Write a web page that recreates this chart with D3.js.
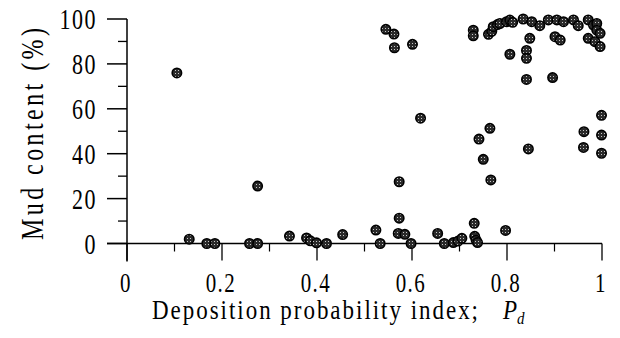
<!DOCTYPE html>
<html>
<head>
<meta charset="utf-8">
<script src="https://cdnjs.cloudflare.com/ajax/libs/d3/7.8.5/d3.min.js"></script>
<style>
  body { margin: 0; background: #fff; }
  text { font-family: "Liberation Serif", "Times New Roman", serif; fill: #000; }
</style>
</head>
<body>
<div id="chart"></div>
<script>
// deposition probability index (x) and mud content % (y)
var pd = [0.105, 0.131, 0.168, 0.185, 0.258, 0.275, 0.275, 0.342, 0.378, 0.386,
          0.399, 0.42, 0.454, 0.524, 0.533, 0.545, 0.562, 0.563, 0.573, 0.573,
          0.571, 0.585, 0.598, 0.601, 0.618, 0.654, 0.668, 0.687, 0.697, 0.705,
          0.729, 0.729, 0.731, 0.732, 0.735, 0.738, 0.741, 0.75, 0.761, 0.766,
          0.764, 0.768, 0.771, 0.78, 0.785, 0.799, 0.797, 0.806, 0.812, 0.806,
          0.834, 0.841, 0.841, 0.841, 0.845, 0.848, 0.852, 0.869, 0.887, 0.896,
          0.901, 0.912, 0.905, 0.919, 0.94, 0.95, 0.962, 0.961, 0.971, 0.971,
          0.982, 0.985, 0.989, 0.989, 0.996, 0.996, 0.999, 0.999, 0.999];
var mud = [76, 1.9, 0, 0, 0, 0, 25.6, 3.3, 2.5, 1.2,
           0.3, 0, 4, 6, 0, 95.4, 93.3, 87.2, 27.5, 11.3,
           4.5, 4.1, 0, 88.7, 55.8, 4.5, 0, 0.4, 1.1, 2.3,
           95, 92.5, 9, 3.2, 1.5, 0.4, 46.5, 37.5, 93.2, 28.3,
           51.3, 94.5, 96.6, 97.5, 98, 98.8, 5.8, 99.5, 98.5, 84.3,
           100, 86, 82.5, 73.1, 42.1, 91.4, 98.8, 97, 99.6, 73.9,
           92.1, 90.6, 99.6, 98.8, 99.6, 97, 49.8, 42.8, 99.6, 91.4,
           97.3, 89.9, 98, 95, 93.6, 87.7, 57.1, 48.3, 40.2];

var xMajor = [0, 0.2, 0.4, 0.6, 0.8, 1];
var xMinor = [0.1, 0.3, 0.5, 0.7, 0.9];
var xLabels = ["0", "0.2", "0.4", "0.6", "0.8", "1"];
var yMajor = [0, 20, 40, 60, 80, 100];
var yMinor = [10, 30, 50, 70, 90];

var width = 620, height = 338;

var x = d3.scaleLinear().domain([0, 1]).range([127, 602]);
var y = d3.scaleLinear().domain([0, 100]).range([243.5, 19]);

var svg = d3.select("#chart").append("svg")
    .attr("width", width)
    .attr("height", height);

// speckled fill for the dots
var pat = svg.append("defs").append("pattern")
    .attr("id", "speck")
    .attr("patternUnits", "userSpaceOnUse")
    .attr("width", 3).attr("height", 3);
pat.append("rect").attr("width", 3).attr("height", 3).attr("fill", "#2a2a2a");
pat.append("rect").attr("x", 1).attr("y", 1).attr("width", 1).attr("height", 1).attr("fill", "#c8c8c8");

/*
 * axes
 */
svg.append("line")
    .attr("x1", x(0)).attr("x2", x(0))
    .attr("y1", y(100)).attr("y2", y(0) + 18)
    .attr("stroke", "#000").attr("stroke-width", 1.5);

svg.append("line")
    .attr("x1", x(0) - 20).attr("x2", x(1))
    .attr("y1", y(0)).attr("y2", y(0))
    .attr("stroke", "#000").attr("stroke-width", 1.5);

svg.selectAll("line.ymaj")
    .data(yMajor)
    .enter().append("line")
    .attr("class", "ymaj")
    .attr("x1", x(0) - 20).attr("x2", x(0))
    .attr("y1", function(d) { return y(d); })
    .attr("y2", function(d) { return y(d); })
    .attr("stroke", "#000").attr("stroke-width", 1.5);

svg.selectAll("line.ymin")
    .data(yMinor)
    .enter().append("line")
    .attr("class", "ymin")
    .attr("x1", x(0) - 9).attr("x2", x(0))
    .attr("y1", function(d) { return y(d); })
    .attr("y2", function(d) { return y(d); })
    .attr("stroke", "#000").attr("stroke-width", 1.3);

svg.selectAll("line.xmaj")
    .data(xMajor)
    .enter().append("line")
    .attr("class", "xmaj")
    .attr("x1", function(d) { return x(d); })
    .attr("x2", function(d) { return x(d); })
    .attr("y1", y(0)).attr("y2", y(0) + 17)
    .attr("stroke", "#000").attr("stroke-width", 1.3);

svg.selectAll("line.xmin")
    .data(xMinor)
    .enter().append("line")
    .attr("class", "xmin")
    .attr("x1", function(d) { return x(d); })
    .attr("x2", function(d) { return x(d); })
    .attr("y1", y(0)).attr("y2", y(0) + 8)
    .attr("stroke", "#000").attr("stroke-width", 1.2);

// tick labels, tall narrow type like the original
svg.selectAll("g.ylab")
    .data(yMajor)
    .enter().append("g")
    .attr("class", "ylab")
    .attr("transform", function(d) { return "translate(97," + (y(d) + 10) + ") scale(1,1.35)"; })
    .append("text")
    .attr("text-anchor", "end")
    .style("font-size", "22px")
    .style("letter-spacing", "1.5px")
    .text(function(d) { return d; });

svg.selectAll("g.xlab")
    .data(xMajor)
    .enter().append("g")
    .attr("class", "xlab")
    .attr("transform", function(d) { return "translate(" + (x(d) - 1) + ",292) scale(1,1.32)"; })
    .append("text")
    .attr("text-anchor", "middle")
    .style("font-size", "21px")
    .style("letter-spacing", "1.5px")
    .text(function(d, i) { return xLabels[i]; });

// axis titles
svg.append("g")
    .attr("transform", "translate(152,319) scale(1,1.15)")
    .append("text")
    .attr("textLength", 326)
    .attr("lengthAdjust", "spacing")
    .style("font-size", "23px")
    .text("Deposition probability index;");

var pt = svg.append("g")
    .attr("transform", "translate(503,319) scale(1,1.15)")
    .append("text")
    .style("font-size", "23px")
    .style("font-style", "italic");
pt.append("tspan").text("P");
pt.append("tspan").attr("dy", 4).style("font-size", "15px").text("d");

svg.append("g")
    .attr("transform", "translate(43,134) rotate(-90) scale(1,1.35)")
    .append("text")
    .attr("text-anchor", "middle")
    .attr("textLength", 212)
    .attr("lengthAdjust", "spacing")
    .style("font-size", "24px")
    .text("Mud content (%)");

/*
 * points
 */
var pts = svg.selectAll("circle")
    .data(pd.map(function(d, i) { return {pd: d, mud: mud[i]}; }));

pts.enter()
    .append("circle")
    .attr("cx", function(d) { return x(d.pd); })
    .attr("cy", function(d) { return y(d.mud); })
    .attr("r", 4.7)
    .attr("fill", "url(#speck)")
    .attr("stroke", "#000")
    .attr("stroke-width", 1.6);
</script>
</body>
</html>
